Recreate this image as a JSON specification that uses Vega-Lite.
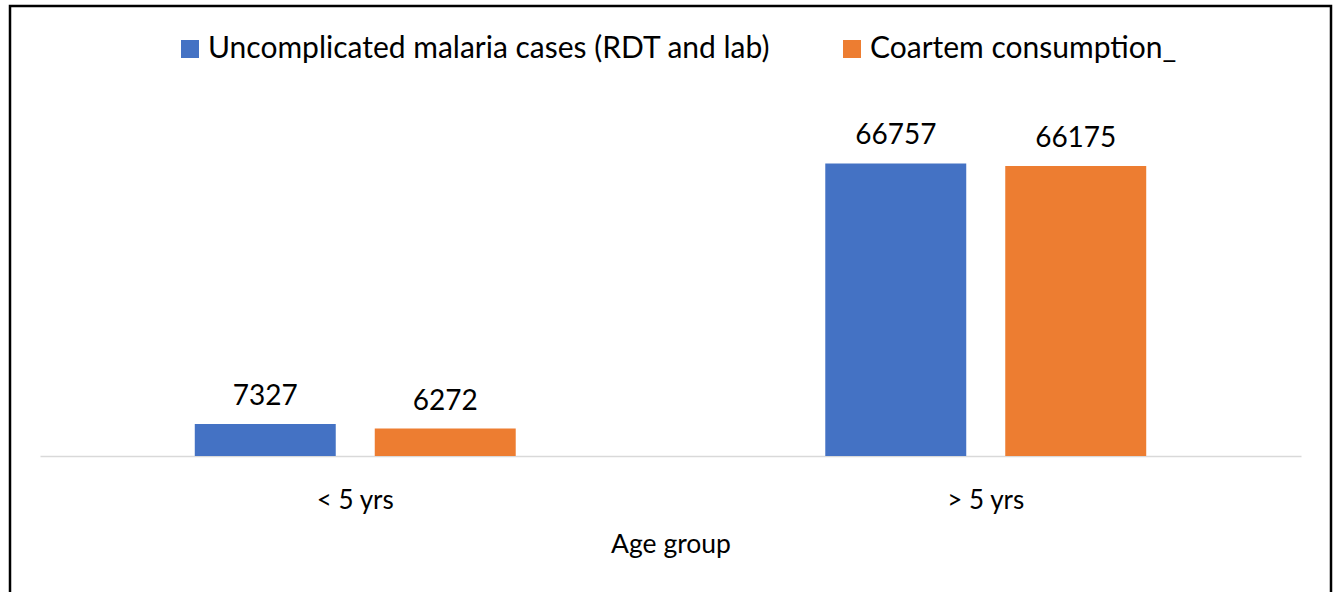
{
  "$schema": "https://vega.github.io/schema/vega-lite/v6.json",
  "width": 1321,
  "height": 589,
  "padding": {"left": 10, "top": 6, "right": 4, "bottom": 0},
  "autosize": {"type": "none"},
  "background": "white",
  "view": {"stroke": "#000000", "strokeWidth": 2.5, "fill": "white"},
  "data": {
    "values": [
      {"age": "< 5 yrs", "series": "Uncomplicated malaria cases (RDT and lab)", "value": 7327},
      {"age": "< 5 yrs", "series": "Coartem consumption_", "value": 6272},
      {"age": "> 5 yrs", "series": "Uncomplicated malaria cases (RDT and lab)", "value": 66757},
      {"age": "> 5 yrs", "series": "Coartem consumption_", "value": 66175}
    ]
  },
  "encoding": {
    "x": {
      "field": "age",
      "type": "nominal",
      "sort": ["< 5 yrs", "> 5 yrs"],
      "scale": {"range": [30, 1291], "paddingInner": 0, "paddingOuter": 0},
      "axis": {
        "orient": "bottom",
        "offset": -139,
        "grid": false,
        "domainColor": "#D9D9D9",
        "domainWidth": 1.5,
        "ticks": false,
        "tickSize": 0,
        "labelPadding": 52,
        "labelBaseline": "alphabetic",
        "labelAngle": 0,
        "labelFont": "Lato",
        "labelFontSize": 26,
        "labelColor": "#000000",
        "title": "Age group",
        "titleFont": "Lato",
        "titleFontSize": 26.5,
        "titleFontWeight": "normal",
        "titleColor": "#000000",
        "titleBaseline": "alphabetic",
        "titleY": 96
      }
    },
    "xOffset": {
      "field": "series",
      "type": "nominal",
      "sort": ["Uncomplicated malaria cases (RDT and lab)", "Coartem consumption_"],
      "scale": {"paddingInner": 0.2167, "paddingOuter": 0.86}
    },
    "y": {
      "field": "value",
      "type": "quantitative",
      "scale": {"domain": [0, 102700], "range": [450, 0], "nice": false, "zero": true},
      "axis": null
    }
  },
  "layer": [
    {
      "mark": {"type": "bar"},
      "encoding": {
        "color": {
          "field": "series",
          "type": "nominal",
          "sort": ["Uncomplicated malaria cases (RDT and lab)", "Coartem consumption_"],
          "scale": {"range": ["#4472C4", "#ED7D31"]},
          "legend": {
            "orient": "none",
            "legendX": 165,
            "legendY": 28,
            "direction": "horizontal",
            "title": null,
            "symbolType": "square",
            "symbolSize": 324,
            "symbolStrokeWidth": 0,
            "symbolOpacity": 1,
            "labelFont": "Lato",
            "labelFontSize": 30,
            "labelColor": "#000000",
            "labelLimit": 2000,
            "labelOffset": 3,
            "columnPadding": 66,
            "padding": 0
          }
        }
      }
    },
    {
      "mark": {"type": "text", "dy": -19, "baseline": "alphabetic", "align": "center", "font": "Lato", "fontSize": 28, "color": "#000000"},
      "encoding": {
        "text": {"field": "value", "type": "quantitative", "format": "d"}
      }
    }
  ]
}
